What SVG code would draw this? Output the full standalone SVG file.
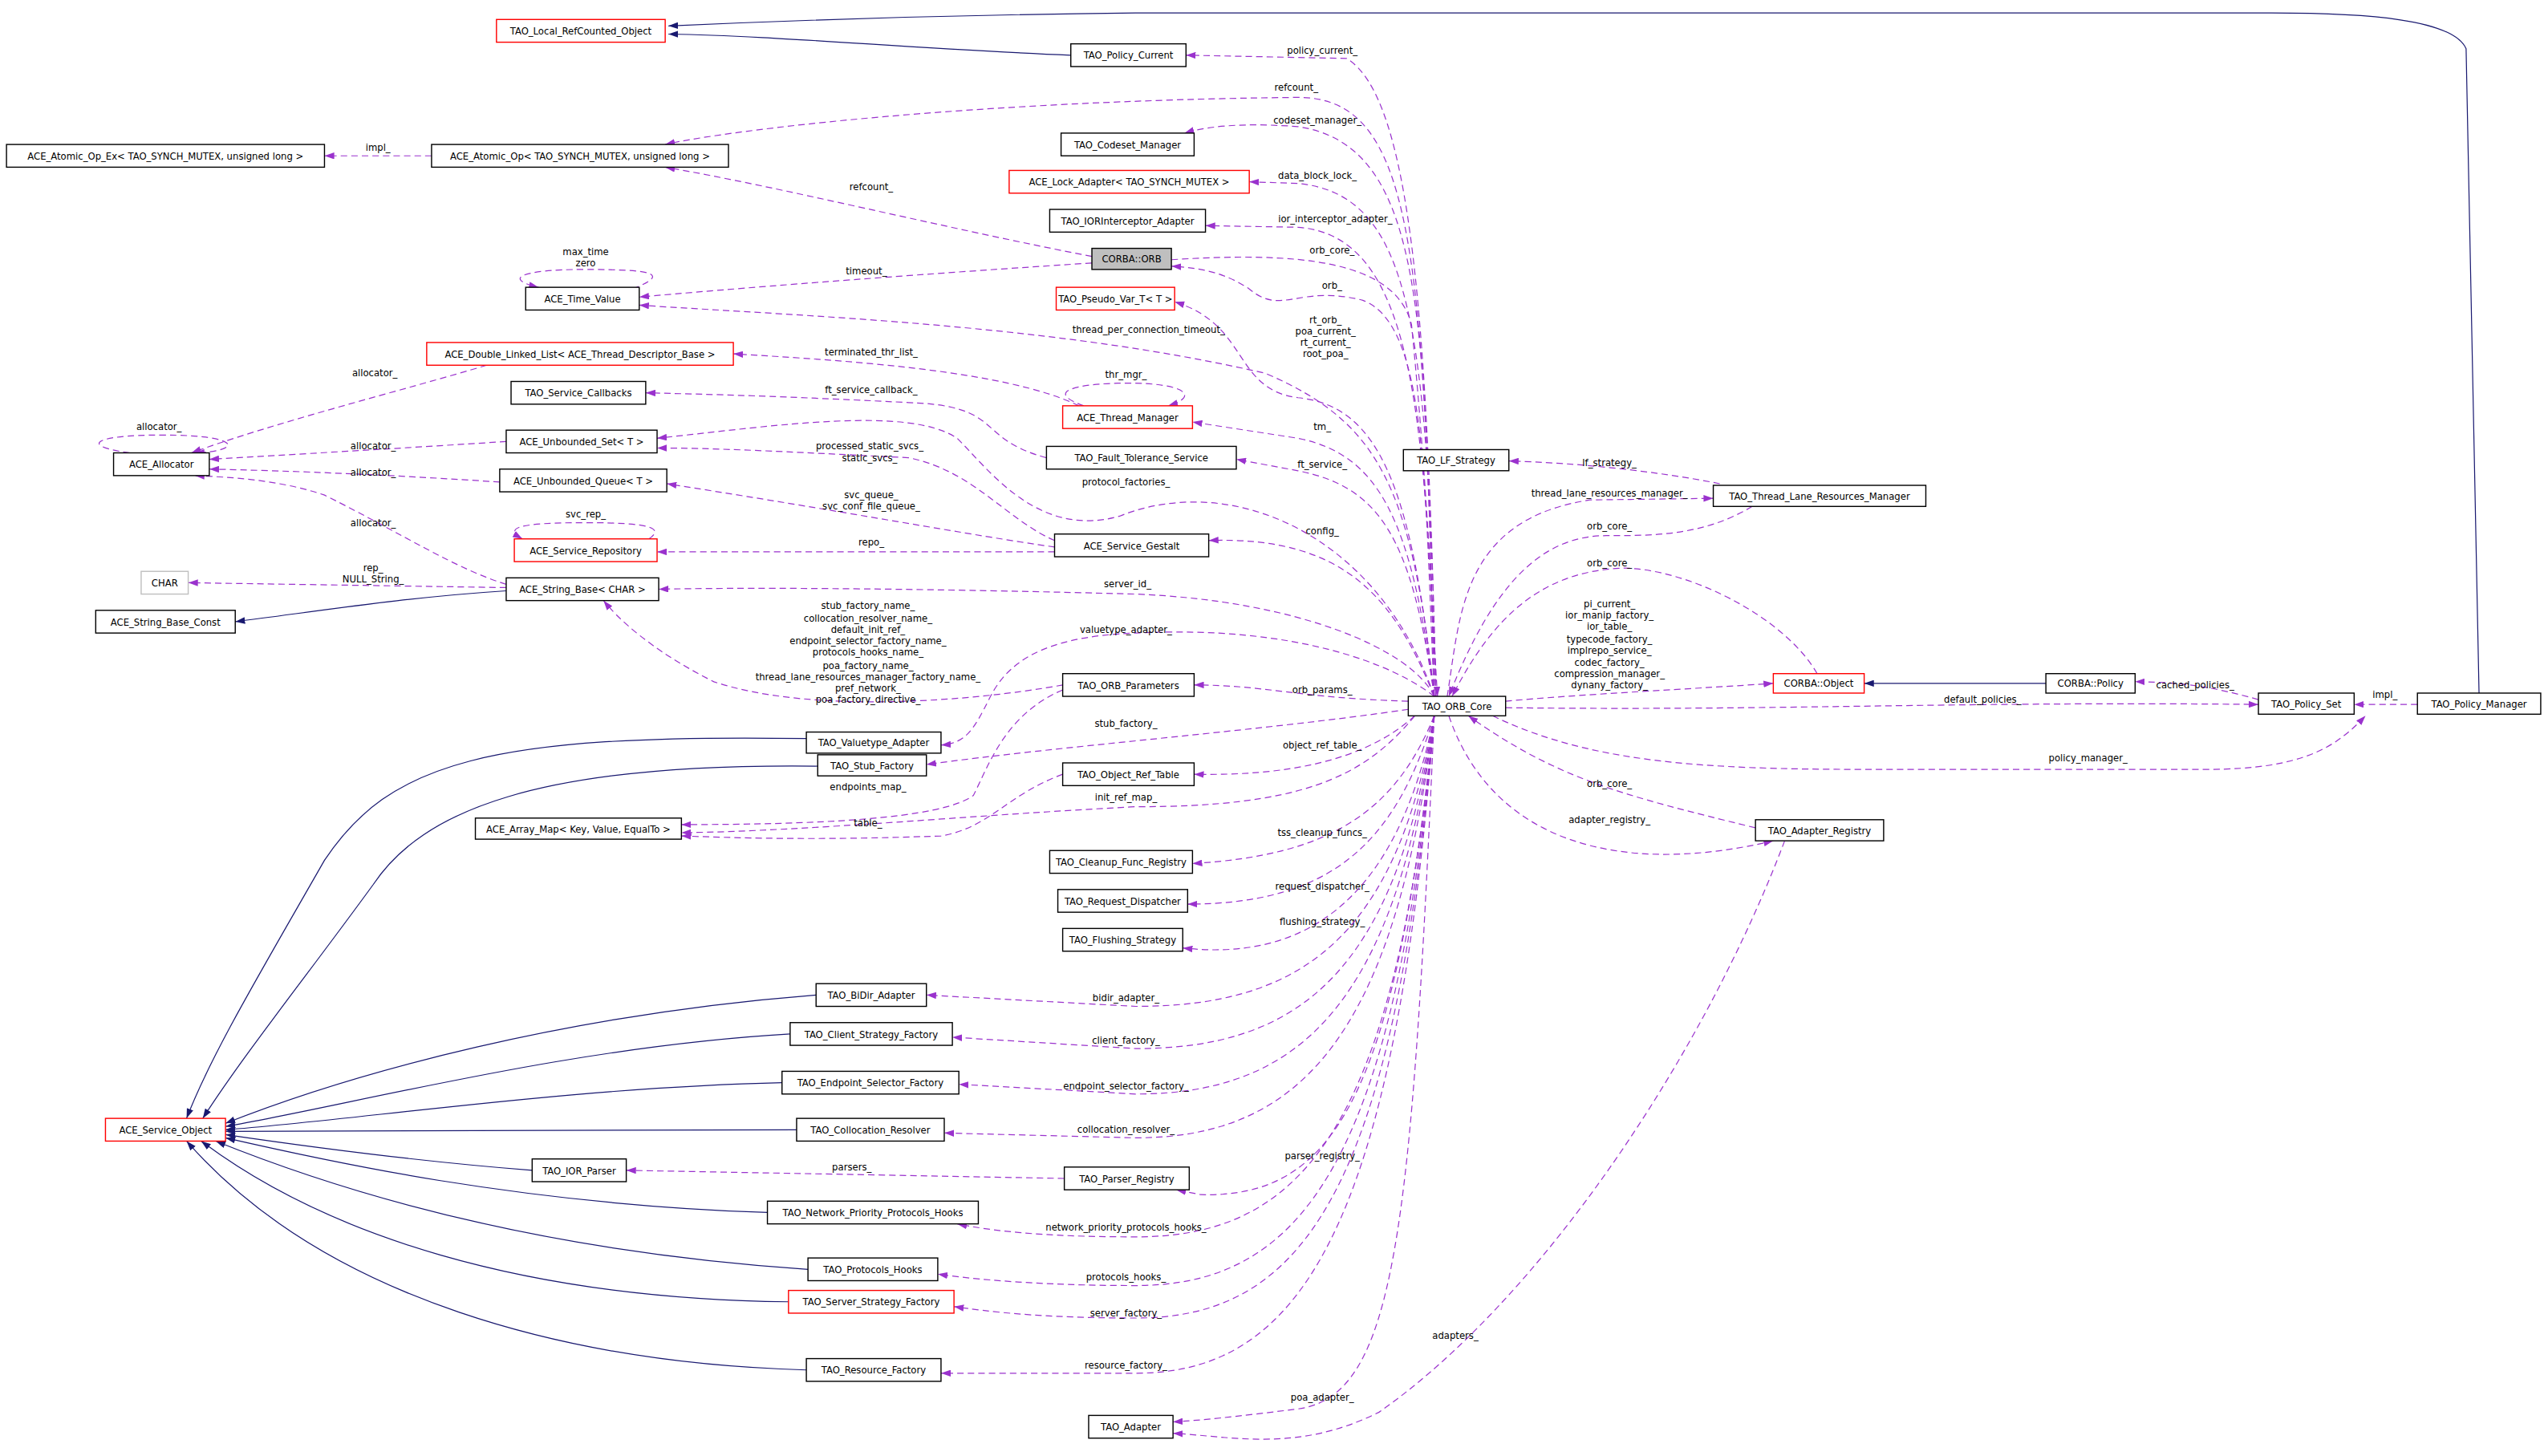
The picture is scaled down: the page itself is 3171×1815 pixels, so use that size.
<svg xmlns="http://www.w3.org/2000/svg" width="3171" height="1815" viewBox="0 0 3171 1815">
<style>
.n rect{fill:#fff;stroke:#000;stroke-width:0.7}
.n.r rect{stroke:#f00}
.n.g rect{stroke:#bfbfbf}
.n.o rect{fill:#bfbfbf}
text{font-family:"DejaVu Sans Condensed","Liberation Sans Narrow","Liberation Sans",sans-serif;font-size:6.4px;fill:#000}
.n text{text-anchor:middle}
.e path{fill:none;stroke:#9a32cd;stroke-width:0.6;stroke-dasharray:4,2.5;marker-end:url(#ap)}
.e path.i{stroke:#191970;stroke-dasharray:none;marker-end:url(#an)}
.e text{text-anchor:middle}
</style>
<defs>
<marker id="ap" markerUnits="userSpaceOnUse" viewBox="0 0 10 7" refX="10" refY="3.5" markerWidth="6" markerHeight="4.2" orient="auto"><path d="M0,0 L10,3.5 L0,7 z" fill="#9a32cd"/></marker>
<marker id="an" markerUnits="userSpaceOnUse" viewBox="0 0 10 7" refX="10" refY="3.5" markerWidth="6" markerHeight="4.2" orient="auto"><path d="M0,0 L10,3.5 L0,7 z" fill="#191970"/></marker>
</defs>
<rect width="3171" height="1815" fill="#fff"/>
<g transform="scale(2.0223,2.0234)">
<g id="edges" class="e">
<path class="i" d="M660,34 C560,30 480,22 412,21"/>
<path class="i" d="M1528,428 L1520,30 C1512,12 1460,8 1400,8 L700,8 C600,9 500,12 412,16"/>
<path class="i" d="M1261,421 L1149,421"/>
<path class="i" d="M312,364 C250,368 200,376 145,383"/>
<path class="i" d="M497,455 C300,452 240,470 200,530 C160,600 130,650 115,689"/>
<path class="i" d="M504,472 C330,470 260,500 230,545 C190,600 150,650 125,689"/>
<path class="i" d="M503,613 C350,625 220,660 139,692"/>
<path class="i" d="M487,637 C350,645 220,680 139,694"/>
<path class="i" d="M482,667 C350,670 220,690 139,696"/>
<path class="i" d="M491,696 L139,697"/>
<path class="i" d="M328,721 C250,715 180,705 139,699"/>
<path class="i" d="M473,747 C320,742 200,715 139,701"/>
<path class="i" d="M498,782 C320,770 200,730 133,703"/>
<path class="i" d="M486,802 C320,800 200,760 124,703"/>
<path class="i" d="M497,844 C350,840 200,800 115,703"/>

<path d="M885,429 C880,200 870,60 830,36 L731,34"/><text x="815" y="33">policy_current_</text>
<path d="M884,429 C878,150 870,60 800,60 C600,62 450,80 410,89"/><text x="799" y="56">refcount_</text>
<path d="M884,429 C878,200 880,90 800,78 C760,75 740,79 730,82"/><text x="812" y="76">codeset_manager_</text>
<path d="M885,429 C880,200 870,120 800,113 L770,112"/><text x="812" y="110">data_block_lock_</text>
<path d="M885,429 C878,250 870,145 800,140 L743,139"/><text x="823" y="137">ior_interceptor_adapter_</text>
<path d="M722,160 C800,155 860,160 870,200 C880,300 884,400 886,429"/><text x="821" y="156">orb_core_</text>
<path d="M884,429 C878,300 880,200 840,185 C800,175 790,195 770,178 C755,168 740,165 722,164"/><text x="821" y="178">orb_</text>
<path d="M884,429 C870,300 850,250 800,245 C760,240 770,200 724,186"/><text x="817" y="199">rt_orb_</text><text x="817" y="206">poa_current_</text><text x="817" y="213">rt_current_</text><text x="817" y="220">root_poa_</text>
<path d="M884,429 C870,300 850,260 780,230 C650,200 500,195 394,188"/><text x="708" y="205">thread_per_connection_timeout_</text>
<path d="M673,162 C550,170 450,178 394,183"/><text x="534" y="169">timeout_</text>
<path d="M673,158 C580,140 480,115 410,103"/><text x="537" y="117">refcount_</text>
<path d="M390,178 C415,168 400,166 360,166 C320,166 310,172 332,177"/><text x="361" y="157">max_time</text><text x="361" y="164">zero</text>
<path d="M266,96 L200,96"/><text x="233" y="93">impl_</text>
<path d="M665,250 C620,228 520,222 452,218"/><text x="537" y="219">terminated_thr_list_</text>
<path d="M668,250 C640,240 670,236 695,236 C730,236 740,244 720,250"/><text x="694" y="233">thr_mgr_</text>
<path d="M884,429 C870,320 850,280 800,270 L735,260"/><text x="815" y="265">tm_</text>
<path d="M645,282 C600,270 620,250 560,248 C480,244 440,243 398,242"/><text x="537" y="242">ft_service_callback_</text>
<path d="M884,429 C870,330 850,300 800,290 L762,283"/><text x="815" y="288">ft_service_</text>
<path d="M884,429 C850,330 760,290 690,318 C640,332 610,290 590,270 C560,250 480,262 405,270"/><text x="694" y="299">protocol_factories_</text>
<path d="M650,333 C620,320 600,290 560,282 C480,278 440,276 405,276"/><text x="536" y="277">processed_static_svcs_</text><text x="536" y="284">static_svcs_</text>
<path d="M650,337 C600,330 520,315 411,298"/><text x="537" y="307">svc_queue_</text><text x="537" y="314">svc_conf_file_queue_</text>
<path d="M650,340 L405,340"/><text x="537" y="336">repo_</text>
<path d="M884,429 C860,370 830,330 745,333"/><text x="815" y="329">config_</text>
<path d="M300,225 C250,240 170,260 118,279"/><text x="231" y="232">allocator_</text>
<path d="M80,279 C50,275 55,268 100,268 C150,268 150,278 120,279"/><text x="98" y="265">allocator_</text>
<path d="M312,272 C250,276 180,280 129,283"/><text x="230" y="277">allocator_</text>
<path d="M308,297 C250,293 180,290 129,289"/><text x="230" y="293">allocator_</text>
<path d="M312,360 C280,350 250,330 200,305 C170,295 140,294 120,293"/><text x="230" y="324">allocator_</text>
<path d="M400,332 C410,325 400,322 361,322 C320,322 310,325 322,332"/><text x="361" y="319">svc_rep_</text>
<path d="M312,362 L116,359"/><text x="230" y="352">rep_</text><text x="230" y="359">NULL_String_</text>
<path d="M884,429 C870,400 800,370 700,366 C550,362 450,362 406,363"/><text x="695" y="362">server_id_</text>
<path d="M655,422 C600,432 500,440 440,420 C400,400 380,380 372,370"/>
<text x="535" y="375">stub_factory_name_</text><text x="535" y="383">collocation_resolver_name_</text><text x="535" y="390">default_init_ref_</text><text x="535" y="397">endpoint_selector_factory_name_</text><text x="535" y="404">protocols_hooks_name_</text><text x="535" y="412">poa_factory_name_</text><text x="535" y="419">thread_lane_resources_manager_factory_name_</text><text x="535" y="426">pref_network_</text><text x="535" y="433">poa_factory_directive_</text>
<path d="M884,429 C860,410 800,385 700,390 C640,392 620,410 610,430 C600,450 595,458 580,459"/><text x="694" y="390">valuetype_adapter_</text>
<path d="M868,432 C800,430 780,422 736,422"/><text x="815" y="427">orb_params_</text>
<path d="M868,437 C780,450 650,460 571,471"/><text x="694" y="448">stub_factory_</text>
<path d="M872,441 C840,470 790,478 736,477"/><text x="815" y="461">object_ref_table_</text>
<path d="M655,425 C620,440 610,470 600,490 C580,505 500,508 420,508"/><text x="535" y="487">endpoints_map_</text>
<path d="M872,441 C840,480 800,497 700,497 C600,502 500,512 420,513"/><text x="694" y="493">init_ref_map_</text>
<path d="M655,477 C620,490 610,510 580,515 C500,518 450,516 420,515"/><text x="535" y="509">table_</text>
<path d="M884,441 C860,500 820,527 735,532"/><text x="815" y="515">tss_cleanup_funcs_</text>
<path d="M884,441 C860,520 820,557 732,557"/><text x="815" y="548">request_dispatcher_</text>
<path d="M884,441 C860,560 800,592 729,584"/><text x="815" y="570">flushing_strategy_</text>
<path d="M884,441 C860,580 800,620 700,620 L571,613"/><text x="694" y="617">bidir_adapter_</text>
<path d="M884,441 C860,600 800,646 700,646 L587,639"/><text x="694" y="643">client_factory_</text>
<path d="M884,441 C860,620 800,674 700,674 L591,668"/><text x="694" y="671">endpoint_selector_factory_</text>
<path d="M884,441 C860,640 800,701 700,701 L582,698"/><text x="694" y="698">collocation_resolver_</text>
<path d="M884,441 C860,680 820,738 740,736 L725,733"/><text x="815" y="714">parser_registry_</text>
<path d="M656,726 L386,721"/><text x="525" y="721">parsers_</text>
<path d="M884,441 C860,700 800,762 700,762 C640,762 610,758 590,754"/><text x="694" y="758">network_priority_protocols_hooks_</text>
<path d="M884,441 C860,720 800,792 700,792 C640,792 600,788 578,785"/><text x="694" y="789">protocols_hooks_</text>
<path d="M884,441 C860,740 800,812 700,812 C640,812 610,808 588,805"/><text x="694" y="811">server_factory_</text>
<path d="M884,441 C860,760 800,846 700,846 L580,846"/><text x="694" y="843">resource_factory_</text>
<path d="M884,441 C870,760 860,860 800,868 C760,873 740,875 723,876"/><text x="815" y="863">poa_adapter_</text>
<path d="M1100,518 C1050,650 950,800 850,870 C800,895 760,885 723,883"/><text x="897" y="825">adapters_</text>
<path d="M1060,298 C1020,290 970,285 930,284"/><text x="992" y="287">lf_strategy_</text>
<path d="M892,429 C900,380 900,320 980,308 L1056,307"/><text x="992" y="306">thread_lane_resources_manager_</text>
<path d="M1080,312 C1050,330 1020,330 990,330 C950,330 920,360 893,429"/><text x="992" y="326">orb_core_</text>
<path d="M1120,415 C1100,380 1040,350 1000,350 C950,352 920,380 895,429"/><text x="992" y="349">orb_core_</text>
<path d="M928,432 C970,428 1050,424 1093,421"/>
<text x="992" y="374">pi_current_</text><text x="992" y="381">ior_manip_factory_</text><text x="992" y="388">ior_table_</text><text x="992" y="396">typecode_factory_</text><text x="992" y="403">implrepo_service_</text><text x="992" y="410">codec_factory_</text><text x="992" y="417">compression_manager_</text><text x="992" y="424">dynany_factory_</text>
<path d="M928,436 C1100,438 1200,432 1392,434"/><text x="1222" y="433">default_policies_</text>
<path d="M1392,431 C1370,425 1350,420 1316,420"/><text x="1353" y="424">cached_policies_</text>
<path d="M1490,434 L1451,434"/><text x="1470" y="430">impl_</text>
<path d="M920,441 C980,470 1050,474 1150,474 L1360,474 C1420,474 1440,460 1458,441"/><text x="1287" y="469">policy_manager_</text>
<path d="M1082,510 C1000,490 960,480 905,441"/><text x="992" y="485">orb_core_</text>
<path d="M893,441 C920,520 1000,540 1093,518"/><text x="992" y="507">adapter_registry_</text>
</g>

<g id="TAO_Local_RefCounted_Object" class="n r"><rect x="306" y="12" width="104" height="14"/><text x="358" y="21.3">TAO_Local_RefCounted_Object</text></g>
<g id="TAO_Policy_Current" class="n"><rect x="660" y="27" width="71" height="14"/><text x="695.5" y="36.3">TAO_Policy_Current</text></g>
<g id="ACE_Atomic_Op_Ex" class="n"><rect x="4" y="89" width="196" height="14"/><text x="102" y="98.3">ACE_Atomic_Op_Ex&lt; TAO_SYNCH_MUTEX, unsigned long &gt;</text></g>
<g id="ACE_Atomic_Op" class="n"><rect x="266" y="89" width="183" height="14"/><text x="357.5" y="98.3">ACE_Atomic_Op&lt; TAO_SYNCH_MUTEX, unsigned long &gt;</text></g>
<g id="TAO_Codeset_Manager" class="n"><rect x="654" y="82" width="82" height="14"/><text x="695" y="91.3">TAO_Codeset_Manager</text></g>
<g id="ACE_Lock_Adapter" class="n r"><rect x="622" y="105" width="148" height="14"/><text x="696" y="114.3">ACE_Lock_Adapter&lt; TAO_SYNCH_MUTEX &gt;</text></g>
<g id="TAO_IORInterceptor_Adapter" class="n"><rect x="647" y="129" width="96" height="14"/><text x="695" y="138.3">TAO_IORInterceptor_Adapter</text></g>
<g id="CORBA_ORB" class="n o"><rect x="673" y="153" width="49" height="13"/><text x="697.5" y="161.8">CORBA::ORB</text></g>
<g id="TAO_Pseudo_Var_T" class="n r"><rect x="651" y="177" width="73" height="14"/><text x="687.5" y="186.3">TAO_Pseudo_Var_T&lt; T &gt;</text></g>
<g id="ACE_Time_Value" class="n"><rect x="324" y="177" width="70" height="14"/><text x="359" y="186.3">ACE_Time_Value</text></g>
<g id="ACE_Double_Linked_List" class="n r"><rect x="263" y="211" width="189" height="14"/><text x="357.5" y="220.3">ACE_Double_Linked_List&lt; ACE_Thread_Descriptor_Base &gt;</text></g>
<g id="ACE_Thread_Manager" class="n r"><rect x="655" y="250" width="80" height="14"/><text x="695" y="259.3">ACE_Thread_Manager</text></g>
<g id="TAO_Service_Callbacks" class="n"><rect x="315" y="235" width="83" height="14"/><text x="356.5" y="244.3">TAO_Service_Callbacks</text></g>
<g id="ACE_Unbounded_Set" class="n"><rect x="312" y="265" width="93" height="14"/><text x="358.5" y="274.3">ACE_Unbounded_Set&lt; T &gt;</text></g>
<g id="ACE_Allocator" class="n"><rect x="70" y="279" width="59" height="14"/><text x="99.5" y="288.3">ACE_Allocator</text></g>
<g id="ACE_Unbounded_Queue" class="n"><rect x="308" y="289" width="103" height="14"/><text x="359.5" y="298.3">ACE_Unbounded_Queue&lt; T &gt;</text></g>
<g id="TAO_Fault_Tolerance_Service" class="n"><rect x="645" y="275" width="117" height="14"/><text x="703.5" y="284.3">TAO_Fault_Tolerance_Service</text></g>
<g id="ACE_Service_Repository" class="n r"><rect x="317" y="332" width="88" height="14"/><text x="361" y="341.3">ACE_Service_Repository</text></g>
<g id="ACE_Service_Gestalt" class="n"><rect x="650" y="329" width="95" height="14"/><text x="697.5" y="338.3">ACE_Service_Gestalt</text></g>
<g id="CHAR" class="n g"><rect x="87" y="352" width="29" height="14"/><text x="101.5" y="361.3">CHAR</text></g>
<g id="ACE_String_Base" class="n"><rect x="312" y="356" width="94" height="14"/><text x="359" y="365.3">ACE_String_Base&lt; CHAR &gt;</text></g>
<g id="ACE_String_Base_Const" class="n"><rect x="59" y="376" width="86" height="14"/><text x="102" y="385.3">ACE_String_Base_Const</text></g>
<g id="TAO_LF_Strategy" class="n"><rect x="865" y="277" width="65" height="13"/><text x="897.5" y="285.8">TAO_LF_Strategy</text></g>
<g id="TAO_Thread_Lane_Resources_Manager" class="n"><rect x="1056" y="299" width="131" height="13"/><text x="1121.5" y="307.8">TAO_Thread_Lane_Resources_Manager</text></g>
<g id="TAO_ORB_Core" class="n"><rect x="868" y="429" width="60" height="12"/><text x="898" y="437.3">TAO_ORB_Core</text></g>
<g id="CORBA_Object" class="n r"><rect x="1093" y="415" width="56" height="12"/><text x="1121" y="423.3">CORBA::Object</text></g>
<g id="CORBA_Policy" class="n"><rect x="1261" y="415" width="55" height="12"/><text x="1288.5" y="423.3">CORBA::Policy</text></g>
<g id="TAO_Policy_Set" class="n"><rect x="1392" y="427" width="59" height="13"/><text x="1421.5" y="435.8">TAO_Policy_Set</text></g>
<g id="TAO_Policy_Manager" class="n"><rect x="1490" y="427" width="76" height="13"/><text x="1528" y="435.8">TAO_Policy_Manager</text></g>
<g id="TAO_ORB_Parameters" class="n"><rect x="655" y="415" width="81" height="14"/><text x="695.5" y="424.3">TAO_ORB_Parameters</text></g>
<g id="TAO_Valuetype_Adapter" class="n"><rect x="497" y="451" width="83" height="13"/><text x="538.5" y="459.8">TAO_Valuetype_Adapter</text></g>
<g id="TAO_Stub_Factory" class="n"><rect x="504" y="465" width="67" height="13"/><text x="537.5" y="473.8">TAO_Stub_Factory</text></g>
<g id="TAO_Object_Ref_Table" class="n"><rect x="655" y="470" width="81" height="14"/><text x="695.5" y="479.3">TAO_Object_Ref_Table</text></g>
<g id="ACE_Array_Map" class="n"><rect x="293" y="504" width="127" height="13"/><text x="356.5" y="512.8">ACE_Array_Map&lt; Key, Value, EqualTo &gt;</text></g>
<g id="TAO_Adapter_Registry" class="n"><rect x="1082" y="505" width="79" height="13"/><text x="1121.5" y="513.8">TAO_Adapter_Registry</text></g>
<g id="TAO_Cleanup_Func_Registry" class="n"><rect x="647" y="524" width="88" height="14"/><text x="691" y="533.3">TAO_Cleanup_Func_Registry</text></g>
<g id="TAO_Request_Dispatcher" class="n"><rect x="652" y="548" width="80" height="14"/><text x="692" y="557.3">TAO_Request_Dispatcher</text></g>
<g id="TAO_Flushing_Strategy" class="n"><rect x="655" y="572" width="74" height="14"/><text x="692" y="581.3">TAO_Flushing_Strategy</text></g>
<g id="TAO_BiDir_Adapter" class="n"><rect x="503" y="606" width="68" height="14"/><text x="537" y="615.3">TAO_BiDir_Adapter</text></g>
<g id="TAO_Client_Strategy_Factory" class="n"><rect x="487" y="630" width="100" height="14"/><text x="537" y="639.3">TAO_Client_Strategy_Factory</text></g>
<g id="TAO_Endpoint_Selector_Factory" class="n"><rect x="482" y="660" width="109" height="14"/><text x="536.5" y="669.3">TAO_Endpoint_Selector_Factory</text></g>
<g id="ACE_Service_Object" class="n r"><rect x="65" y="689" width="74" height="14"/><text x="102" y="698.3">ACE_Service_Object</text></g>
<g id="TAO_Collocation_Resolver" class="n"><rect x="491" y="689" width="91" height="14"/><text x="536.5" y="698.3">TAO_Collocation_Resolver</text></g>
<g id="TAO_IOR_Parser" class="n"><rect x="328" y="714" width="58" height="14"/><text x="357" y="723.3">TAO_IOR_Parser</text></g>
<g id="TAO_Parser_Registry" class="n"><rect x="656" y="719" width="77" height="14"/><text x="694.5" y="728.3">TAO_Parser_Registry</text></g>
<g id="TAO_Network_Priority_Protocols_Hooks" class="n"><rect x="473" y="740" width="130" height="14"/><text x="538" y="749.3">TAO_Network_Priority_Protocols_Hooks</text></g>
<g id="TAO_Protocols_Hooks" class="n"><rect x="498" y="775" width="80" height="14"/><text x="538" y="784.3">TAO_Protocols_Hooks</text></g>
<g id="TAO_Server_Strategy_Factory" class="n r"><rect x="486" y="795" width="102" height="14"/><text x="537" y="804.3">TAO_Server_Strategy_Factory</text></g>
<g id="TAO_Resource_Factory" class="n"><rect x="497" y="837" width="83" height="14"/><text x="538.5" y="846.3">TAO_Resource_Factory</text></g>
<g id="TAO_Adapter" class="n"><rect x="671" y="872" width="52" height="14"/><text x="697" y="881.3">TAO_Adapter</text></g>
</g>
</svg>
